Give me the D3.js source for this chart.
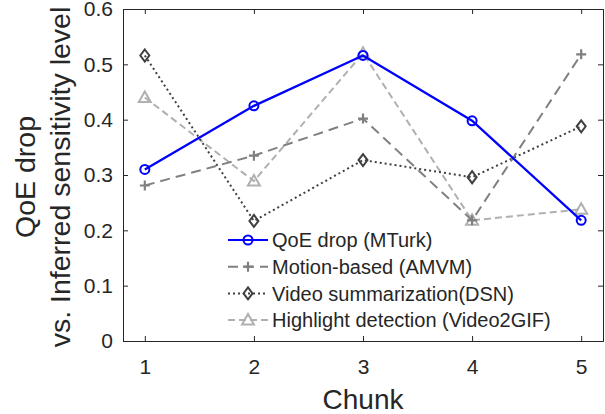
<!DOCTYPE html>
<html>
<head>
<meta charset="utf-8">
<script src="https://d3js.org/d3.v7.min.js"></script>
<style>
  body { margin: 0; background: #fff; }
  text { font-family: "Liberation Sans", Arial, sans-serif; fill: #262626; }
</style>
</head>
<body>
<div id="chart"></div>
<script>
// data
var chunks = [1, 2, 3, 4, 5];
var qoeDrop = [0.31, 0.425, 0.516, 0.398, 0.218];
var motionBased = [0.281, 0.335, 0.402, 0.218, 0.518];
var videoSumm = [0.516, 0.217, 0.327, 0.296, 0.388];
var highlightDet = [0.44, 0.289, 0.52, 0.218, 0.238];
var yTicks = [0, 0.1, 0.2, 0.3, 0.4, 0.5, 0.6];

var series = [
  { name: "QoE drop (MTurk)", values: qoeDrop, color: "#0000ff", dash: null, marker: "circle" },
  { name: "Motion-based (AMVM)", values: motionBased, color: "#808080", dash: "10,6", marker: "plus" },
  { name: "Video summarization(DSN)", values: videoSumm, color: "#404040", dash: "2,3", marker: "diamond" },
  { name: "Highlight detection (Video2GIF)", values: highlightDet, color: "#b0b0b0", dash: "7,4", marker: "triangle" }
];

var W = 605, H = 414;
var margin = { top: 9, right: 2, bottom: 73, left: 123 },
  width = W - margin.left - margin.right,
  height = H - margin.top - margin.bottom;

var svg = d3.select("#chart").append("svg")
  .attr("width", W).attr("height", H);

var g = svg.append("g")
  .attr("transform", "translate(" + margin.left + "," + margin.top + ")");

var x = d3.scaleLinear().domain([0.8, 5.2]).range([0, width]);
var y = d3.scaleLinear().domain([0, 0.6]).range([height, 0]);

// axes (MATLAB style: inward ticks, box)
var xAxis = g.append("g")
  .attr("transform", "translate(0," + height + ")")
  .call(d3.axisBottom(x).tickValues(chunks).tickSize(-5).tickPadding(18).tickFormat(d3.format("d")));
var xTop = g.append("g")
  .call(d3.axisTop(x).tickValues(chunks).tickSize(-5).tickFormat(""));
var yAxis = g.append("g")
  .call(d3.axisLeft(y).tickValues(yTicks).tickSize(-5).tickPadding(10).tickFormat(function (d) { return d === 0 ? "0" : d3.format(".1f")(d); }));
var yRight = g.append("g")
  .attr("transform", "translate(" + width + ",0)")
  .call(d3.axisRight(y).tickValues(yTicks).tickSize(-5).tickFormat(""));

[xAxis, xTop, yAxis, yRight].forEach(function (a) {
  a.select(".domain").attr("stroke", "#262626");
  a.selectAll(".tick line").attr("stroke", "#262626");
  a.selectAll("text").style("font-size", "21px").attr("fill", "#262626");
});

// axis labels
svg.append("text")
  .attr("x", margin.left + x(3)).attr("y", 409)
  .attr("text-anchor", "middle")
  .style("font-size", "28px")
  .text("Chunk");

var yl = svg.append("text")
  .attr("transform", "translate(0,177) rotate(-90)")
  .attr("text-anchor", "middle")
  .style("font-size", "28.5px");
yl.append("tspan").attr("x", 0).attr("y", 35).text("QoE drop");
yl.append("tspan").attr("x", 0).attr("y", 70).text("vs. Inferred sensitivity level");

// markers
function drawMarker(sel, type, color) {
  if (type === "circle") {
    sel.append("circle").attr("r", 4.5).attr("fill", "none").attr("stroke", color).attr("stroke-width", 2);
  } else if (type === "plus") {
    sel.append("path").attr("d", "M-5,0H5M0,-5V5").attr("stroke", color).attr("stroke-width", 2.2);
  } else if (type === "diamond") {
    sel.append("path").attr("d", "M0,-6L4.5,0L0,6L-4.5,0Z").attr("fill", "none").attr("stroke", color).attr("stroke-width", 2);
  } else if (type === "triangle") {
    sel.append("path").attr("d", "M0,-6L6,4.5L-6,4.5Z").attr("fill", "none").attr("stroke", color).attr("stroke-width", 2);
  }
}

var line = d3.line()
  .x(function (d, i) { return x(chunks[i]); })
  .y(function (d) { return y(d); });

// draw back to front so the blue line is on top
series.slice().reverse().forEach(function (s) {
  g.append("path")
    .datum(s.values)
    .attr("d", line)
    .attr("fill", "none")
    .attr("stroke", s.color)
    .attr("stroke-width", s.marker === "circle" ? 2.3 : 2)
    .attr("stroke-dasharray", s.dash);
  s.values.forEach(function (v, i) {
    var m = g.append("g").attr("transform", "translate(" + x(chunks[i]) + "," + y(v) + ")");
    drawMarker(m, s.marker, s.color);
  });
});

// legend
var legend = svg.append("g").attr("transform", "translate(228,240)");
series.forEach(function (s, i) {
  var row = legend.append("g").attr("transform", "translate(0," + (i * 26.7) + ")");
  row.append("line")
    .attr("x1", 0).attr("x2", 40).attr("y1", 0).attr("y2", 0)
    .attr("stroke", s.color).attr("stroke-width", 2)
    .attr("stroke-dasharray", s.dash);
  var m = row.append("g").attr("transform", "translate(20,0)");
  drawMarker(m, s.marker, s.color);
  row.append("text")
    .attr("x", 44).attr("y", 0)
    .attr("dy", "0.36em")
    .style("font-size", "20px")
    .attr("fill", "#000")
    .text(s.name);
});
</script>
</body>
</html>
